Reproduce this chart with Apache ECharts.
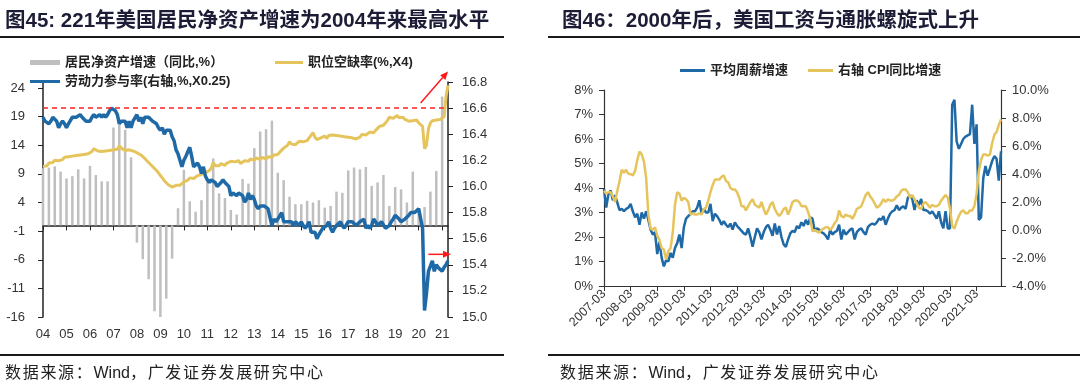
<!DOCTYPE html>
<html><head><meta charset="utf-8">
<script src="https://cdn.jsdelivr.net/npm/echarts@6/dist/echarts.min.js"></script>
<style>
html,body{margin:0;padding:0;background:#fff;width:1080px;height:391px;overflow:hidden;}
#chart{position:absolute;left:0;top:0;width:1080px;height:391px;}
.t{position:absolute;font-family:"Liberation Sans","Noto Sans CJK SC",sans-serif;font-weight:bold;font-size:20.5px;color:#1c1c36;white-space:nowrap;line-height:24px;}
.rule{position:absolute;height:2px;background:#1a1a1a;}
.src{position:absolute;font-family:"Liberation Sans","Noto Sans CJK SC",sans-serif;font-size:16px;color:#222;white-space:nowrap;line-height:20px;}
.src .c{letter-spacing:1.7px}
</style></head><body>
<div id="chart"></div>
<div class="t" style="left:5px;top:8px">图45: 221年美国居民净资产增速为2004年来最高水平</div>
<div class="t" style="left:562px;top:8px">图46：2000年后，美国工资与通胀螺旋式上升</div>
<div class="rule" style="left:0;top:36px;width:504px"></div>
<div class="rule" style="left:548px;top:36px;width:532px"></div>
<div class="rule" style="left:0;top:354px;width:504px"></div>
<div class="rule" style="left:548px;top:354px;width:532px"></div>
<div class="src" style="left:5px;top:363px"><span class="c">数据来源：</span>Wind<span class="c">，广发证券发展研究中心</span></div>
<div class="src" style="left:560px;top:363px"><span class="c">数据来源：</span>Wind<span class="c">，广发证券发展研究中心</span></div>
<script>
// ---------- Left chart data (monthly 2004-01 .. 2021-04) ----------
const leftStart = [2004, 1], leftEnd = [2021, 4];
// household net worth YoY, quarterly 2004Q1 .. 2021Q1 (%)
const netWorthQ = [10.0, 10.1, 10.3, 9.4, 8.2, 8.6, 9.8, 8.2, 10.4, 8.8, 7.7, 7.7,
  17.1, 17.6, 16.7, 11.9, -3.0, -5.9, -9.4, -15.0, -16.0, -12.8, -5.8,
  3.0, 9.7, 4.2, 2.4, 4.4, 7.6, 11.7, 5.6, 4.8, 2.7, 1.9,
  8.1, 7.3, 13.5, 16.4, 16.8, 18.3, 9.2, 7.9, 5.0, 3.7, 3.7, 4.3, 4.0, 4.4, 3.1, 3.4,
  5.9, 5.7, 9.6, 10.1, 9.8, 10.2, 6.9, 7.5, 8.8, 3.4, 6.7, 6.3, 4.0, 9.4, 2.2, 3.2, 5.9, 9.5, 22.5];
// job openings rate x4, monthly
const vacancyX4 = [
  10.3, 10.5, 10.4, 10.9, 10.7, 11.0, 11.4, 11.1, 11.3, 11.6, 11.5, 11.9,
  11.7, 12.0, 11.9, 12.1, 12.3, 12.2, 12.5, 12.3, 12.6, 12.4, 12.6, 12.5,
  12.7, 12.9, 13.4, 13.1, 13.0, 13.2, 12.9, 13.1, 13.0, 13.2, 13.1, 13.3,
  13.2, 13.4, 13.3, 13.9, 13.5, 13.4, 13.1, 13.3, 13.2, 12.9, 13.0, 12.9,
  12.7, 12.5, 12.3, 12.0, 11.7, 11.4, 11.0, 10.7, 10.3, 10.0, 9.6, 9.2,
  8.7, 8.3, 7.8, 7.5, 7.1, 6.8, 6.7, 6.9, 7.0, 7.2, 7.0, 7.3,
  7.6, 7.4, 7.9, 8.3, 8.0, 8.2, 8.4, 8.7, 8.5, 8.9, 9.0, 9.2,
  9.4, 9.6, 10.0, 11.0, 10.4, 10.6, 10.4, 10.8, 10.6, 10.5, 10.9, 10.8,
  11.2, 10.9, 11.1, 11.4, 11.3, 10.8, 11.1, 11.3, 11.4, 11.2, 11.6, 11.5,
  11.4, 11.8, 11.6, 11.5, 11.9, 11.7, 11.6, 12.0, 11.8, 11.9, 12.3, 12.6,
  12.4, 12.8, 13.0, 13.5, 13.3, 14.0, 14.6, 14.2, 14.5, 14.1, 14.3, 14.7,
  15.0, 14.6, 14.9, 14.8, 15.3, 15.1, 16.2, 15.4, 15.0, 14.9, 15.3, 15.4,
  15.6, 15.2, 15.7, 15.5, 15.8, 16.1, 15.7, 15.9, 15.6, 15.3, 15.5, 15.6,
  15.4, 15.6, 15.3, 15.5, 15.1, 14.9, 15.4, 15.9, 15.6, 15.8, 16.1, 16.3,
  16.4, 16.2, 16.6, 16.9, 17.3, 17.2, 17.5, 17.9, 18.3, 18.9, 18.6, 18.7,
  19.0, 19.2, 18.8, 18.6, 18.9, 18.5, 18.4, 18.2, 18.5, 18.3, 18.2, 18.4,
  17.9, 18.1, 17.3, 13.4, 14.0, 16.9, 17.9, 18.3, 18.0, 18.4, 18.2, 18.5,
  18.6, 19.0, 22.5, 24.5];
// labour force participation x0.25, monthly (right axis)
const participationX025 = [
  16.53, 16.50, 16.50, 16.48, 16.50, 16.53, 16.53, 16.50, 16.45, 16.48, 16.50, 16.48,
  16.45, 16.48, 16.48, 16.53, 16.53, 16.53, 16.53, 16.55, 16.53, 16.53, 16.50, 16.50,
  16.50, 16.53, 16.55, 16.53, 16.53, 16.55, 16.53, 16.55, 16.53, 16.55, 16.58, 16.60,
  16.60, 16.58, 16.55, 16.48, 16.50, 16.50, 16.50, 16.45, 16.50, 16.45, 16.50, 16.50,
  16.55, 16.50, 16.53, 16.48, 16.53, 16.53, 16.53, 16.53, 16.50, 16.50, 16.48, 16.45,
  16.43, 16.45, 16.40, 16.43, 16.43, 16.43, 16.38, 16.35, 16.28, 16.25, 16.25, 16.15,
  16.20, 16.23, 16.23, 16.30, 16.23, 16.15, 16.15, 16.18, 16.15, 16.10, 16.15, 16.08,
  16.05, 16.03, 16.05, 16.05, 16.03, 16.00, 16.00, 16.03, 16.05, 16.03, 16.03, 16.00,
  15.93, 15.95, 15.95, 15.93, 15.95, 15.95, 15.93, 15.88, 15.90, 15.95, 15.90, 15.93,
  15.90, 15.85, 15.83, 15.85, 15.85, 15.85, 15.85, 15.83, 15.83, 15.70, 15.75, 15.73,
  15.75, 15.75, 15.80, 15.73, 15.73, 15.73, 15.73, 15.73, 15.70, 15.73, 15.73, 15.70,
  15.73, 15.70, 15.68, 15.70, 15.73, 15.65, 15.65, 15.65, 15.60, 15.63, 15.63, 15.68,
  15.68, 15.70, 15.73, 15.68, 15.65, 15.68, 15.70, 15.70, 15.73, 15.70, 15.68, 15.68,
  15.73, 15.73, 15.73, 15.73, 15.70, 15.70, 15.73, 15.73, 15.75, 15.68, 15.70, 15.68,
  15.70, 15.75, 15.73, 15.70, 15.70, 15.73, 15.73, 15.68, 15.68, 15.70, 15.73, 15.75,
  15.78, 15.78, 15.75, 15.73, 15.73, 15.75, 15.75, 15.78, 15.80, 15.80, 15.80, 15.80,
  15.83, 15.83, 15.68, 15.05, 15.18, 15.35, 15.35, 15.43, 15.35, 15.40, 15.38, 15.38,
  15.35, 15.38, 15.40, 15.43];
const leftYTicks = [-16, -11, -6, -1, 4, 9, 14, 19, 24];
const refLevel = 16.6;   // red dashed reference (right axis)

// ---------- Right chart data (monthly 2007-03 .. 2022-02) ----------
const rightStart = [2007, 3], rightEnd = [2022, 2];
const weeklyWageYoY = [
  3.95, 3.2, 3.75, 3.9, 3.5, 3.7, 3.4, 3.1, 3.15, 3.05,
  3.15, 3.2, 3.35, 3.05, 2.8, 2.95, 2.5, 3.0, 2.75, 3.05, 2.7, 2.3,
  2.1, 2.2, 1.3, 1.8, 1.15, 0.8, 1.05, 1.0, 1.35, 1.15, 1.55, 1.75,
  2.1, 1.55, 2.4, 2.75, 2.85, 2.95, 3.05, 3.05, 3.2, 3.5, 2.95, 3.15,
  3.0, 3.0, 3.35, 2.65, 2.95, 2.85, 2.7, 2.5, 2.65, 2.5, 2.4, 2.55,
  2.3, 2.6, 2.45, 2.35, 2.25, 2.15, 2.1, 2.35, 2.0, 1.6, 2.0, 2.35,
  2.2, 1.9, 2.2, 2.4, 2.5, 2.3, 2.05, 2.55, 2.1, 2.45, 2.0, 1.7,
  1.6, 1.9, 2.15, 2.25, 2.2, 2.45, 2.35, 2.6, 2.45, 2.7, 2.5, 2.8,
  2.75, 2.25, 2.35, 2.3, 2.2, 2.15, 2.05, 1.9, 2.3, 2.1, 2.2, 2.25,
  2.5, 1.9, 2.3, 2.1, 2.2, 2.3, 2.35, 1.9, 2.2, 2.3, 2.35, 2.2,
  2.1, 2.4, 2.5, 2.55, 2.5, 2.6, 2.75, 2.7, 2.85, 2.5, 2.75, 2.95,
  3.05, 3.1, 3.3, 3.1, 3.2, 3.25, 3.15, 3.6, 3.7, 3.55, 3.1, 3.5,
  3.3, 3.55, 3.1, 3.1, 3.05, 2.95, 3.05, 2.9, 2.75, 3.05, 2.6, 2.35,
  3.05, 2.35, 2.35, 7.4, 7.6, 5.9, 5.6, 5.8, 6.0, 6.1, 6.15, 6.2,
  7.4, 5.8, 6.6, 2.7, 2.8, 4.4, 4.9, 4.5, 4.8, 5.1, 5.3, 5.2,
  4.3, 5.5];
const cpiYoY = [
  2.8, 2.6, 2.7, 2.7, 2.4, 2.0, 2.8, 3.5, 4.3, 4.1,
  4.3, 4.0, 4.0, 3.9, 4.2, 5.0, 5.6, 5.4, 4.9, 3.7, 1.1, 0.1,
  0.0, 0.2, -0.4, -0.7, -1.3, -1.4, -2.1, -1.5, -1.3, -0.2, 1.8, 2.7,
  2.6, 2.1, 2.3, 2.2, 2.0, 1.1, 1.2, 1.1, 1.1, 1.2, 1.1, 1.5,
  1.6, 2.1, 2.7, 3.2, 3.6, 3.6, 3.6, 3.8, 3.9, 3.5, 3.4, 3.0,
  2.9, 2.9, 2.7, 2.3, 1.7, 1.7, 1.4, 1.7, 2.0, 2.2, 1.8, 1.7,
  1.6, 2.0, 1.5, 1.1, 1.4, 1.8, 2.0, 1.5, 1.2, 1.0, 1.2, 1.5,
  1.6, 1.1, 1.5, 2.0, 2.1, 2.1, 2.0, 1.7, 1.7, 1.7, 1.3, 0.8,
  -0.1, 0.0, -0.1, -0.2, 0.0, 0.1, 0.2, 0.2, 0.0, 0.2, 0.5, 0.7,
  1.4, 1.0, 0.9, 1.1, 1.0, 1.0, 0.8, 1.1, 1.5, 1.6, 1.7, 2.1,
  2.5, 2.7, 2.4, 2.2, 1.9, 1.6, 1.7, 1.9, 2.2, 2.0, 2.2, 2.1,
  2.1, 2.2, 2.4, 2.5, 2.8, 2.9, 2.9, 2.7, 2.3, 2.5, 2.2, 1.9,
  1.6, 1.5, 1.9, 2.0, 1.8, 1.6, 1.8, 1.7, 1.7, 1.8, 2.1, 2.3,
  2.5, 2.3, 1.5, 0.3, 0.1, 0.6, 1.0, 1.3, 1.4, 1.2, 1.2, 1.4,
  1.4, 1.7, 2.6, 4.2, 5.0, 5.4, 5.4, 5.3, 5.4, 6.2, 6.8, 7.0,
  7.5, 7.9];

const N_BAR = '居民净资产增速（同比,%）';
const N_VAC = '职位空缺率(%,X4)';
const N_LFP = '劳动力参与率(右轴,%,X0.25)';
const N_WAGE = '平均周薪增速';
const N_CPI = '右轴 CPI同比增速';

function months(a, b) {
  const out = []; let y = a[0], m = a[1];
  while (y < b[0] || (y === b[0] && m <= b[1])) {
    out.push(y + '-' + (m < 10 ? '0' : '') + m);
    m++; if (m > 12) { m = 1; y++; }
  }
  return out;
}
const leftCats = months(leftStart, leftEnd);
const rightCats = months(rightStart, rightEnd);
// quarterly bars placed on the first month of each quarter
const netWorthMonthly = leftCats.map(() => null);
netWorthQ.forEach((v, i) => { netWorthMonthly[i * 3] = v; });

const F = '"Liberation Sans","Noto Sans CJK SC",sans-serif';
const AX = '#333';
const BLUE = '#1F69A6', YEL = '#E6C45C', GREY = '#BFBFBF';
const lblStyle = { color: '#333', fontSize: 13, fontFamily: F };
const isJan = (i, v) => v.slice(5) === '01';
const every12 = (i) => i % 12 === 0;
const legText = { color: '#222', fontSize: 13, fontWeight: 'bold', fontFamily: F };

const chart = echarts.init(document.getElementById('chart'), null, { renderer: 'canvas' });
const option = {
  animation: false,
  backgroundColor: 'transparent',
  grid: [
    { left: 43, right: 632, top: 82, bottom: 74 },
    { left: 604, right: 79, top: 90, bottom: 105 }
  ],
  legend: [
    { left: 25, top: 51, itemWidth: 30, itemHeight: 5, data: [{ name: N_BAR, icon: 'rect' }], textStyle: legText, selectedMode: false },
    { left: 270, top: 51, itemWidth: 28, itemHeight: 3, data: [{ name: N_VAC, icon: 'rect' }], textStyle: legText, selectedMode: false },
    { left: 25, top: 70, itemWidth: 30, itemHeight: 3, data: [{ name: N_LFP, icon: 'rect' }], textStyle: legText, selectedMode: false },
    { left: 675, top: 59, itemWidth: 25, itemHeight: 3, itemGap: 20, data: [{ name: N_WAGE, icon: 'rect' }, { name: N_CPI, icon: 'rect' }], textStyle: legText, selectedMode: false }
  ],
  xAxis: [
    { gridIndex: 0, type: 'category', data: leftCats, boundaryGap: false,
      axisLine: { onZero: true, onZeroAxisIndex: 0, lineStyle: { color: '#222', width: 1.5 } },
      axisTick: { interval: isJan, length: 5, lineStyle: { color: '#222' } },
      axisLabel: { show: false }, splitLine: { show: false } },
    { gridIndex: 0, type: 'category', data: leftCats, boundaryGap: false, position: 'bottom',
      axisLine: { show: false, onZero: false }, axisTick: { show: false },
      axisLabel: Object.assign({ interval: isJan, margin: 11, formatter: v => v.slice(2, 4) }, lblStyle),
      splitLine: { show: false } },
    { gridIndex: 1, type: 'category', data: rightCats, boundaryGap: false,
      axisLine: { onZero: false, lineStyle: { color: AX, width: 1.2 } },
      axisTick: { interval: every12, length: 5, lineStyle: { color: AX } },
      axisLabel: Object.assign({ interval: every12, rotate: 45, margin: 6 }, lblStyle, { fontSize: 12.5 }),
      splitLine: { show: false } }
  ],
  yAxis: [
    { gridIndex: 0, type: 'value', min: -16, max: 25.05,
      axisLine: { show: true, lineStyle: { color: '#222', width: 1.5 } },
      axisTick: { show: true, length: 5, customValues: leftYTicks, lineStyle: { color: '#222' } },
      axisLabel: Object.assign({ customValues: leftYTicks, margin: 18 }, lblStyle),
      splitLine: { show: false } },
    { gridIndex: 0, type: 'value', position: 'right', min: 15, max: 16.8, interval: 0.2,
      axisLine: { show: true, lineStyle: { color: '#222', width: 1.5 } },
      axisTick: { show: true, length: 5, lineStyle: { color: '#222' } },
      axisLabel: Object.assign({ margin: 14, formatter: v => v.toFixed(1) }, lblStyle),
      splitLine: { show: false } },
    { gridIndex: 1, type: 'value', min: 0, max: 8, interval: 1,
      axisLine: { show: true, lineStyle: { color: AX, width: 1.2 } },
      axisTick: { show: true, length: 5, lineStyle: { color: AX } },
      axisLabel: Object.assign({ margin: 11, formatter: v => v + '%' }, lblStyle),
      splitLine: { show: false } },
    { gridIndex: 1, type: 'value', position: 'right', min: -4, max: 10, interval: 2,
      axisLine: { show: true, lineStyle: { color: AX, width: 1.2 } },
      axisTick: { show: true, length: 5, lineStyle: { color: AX } },
      axisLabel: Object.assign({ margin: 11, formatter: v => v.toFixed(1) + '%' }, lblStyle),
      splitLine: { show: false } }
  ],
  series: [
    { name: N_BAR, type: 'bar', xAxisIndex: 0, yAxisIndex: 0, data: netWorthMonthly,
      barWidth: 2.5, itemStyle: { color: GREY } },
    { name: N_VAC, type: 'line', xAxisIndex: 0, yAxisIndex: 0, data: vacancyX4,
      symbol: 'none', color: YEL, lineStyle: { color: YEL, width: 3 } },
    { name: N_LFP, type: 'line', xAxisIndex: 0, yAxisIndex: 1, data: participationX025,
      symbol: 'none', color: BLUE, lineStyle: { color: BLUE, width: 3.5 },
      markLine: { silent: true, symbol: ['none', 'none'], label: { show: false },
        lineStyle: { color: '#FF2020', type: [5, 4], width: 1.5 },
        data: [{ yAxis: refLevel }] } },
    { name: N_WAGE, type: 'line', xAxisIndex: 2, yAxisIndex: 2, data: weeklyWageYoY,
      symbol: 'none', color: BLUE, lineStyle: { color: BLUE, width: 2.5 } },
    { name: N_CPI, type: 'line', xAxisIndex: 2, yAxisIndex: 3, data: cpiYoY,
      symbol: 'none', color: YEL, lineStyle: { color: YEL, width: 2.5 } }
  ]
};
chart.setOption(option);

// ---- red annotation arrows (placed in data coordinates of the left chart) ----
function arrow(p, q, color) {
  const dx = q[0] - p[0], dy = q[1] - p[1], L = Math.hypot(dx, dy);
  const ux = dx / L, uy = dy / L, h = 8, w = 3.5;
  const bx = q[0] - ux * h, by = q[1] - uy * h;
  return [
    { type: 'line', shape: { x1: p[0], y1: p[1], x2: bx, y2: by }, style: { stroke: color, lineWidth: 1.5 }, z: 100 },
    { type: 'polygon', shape: { points: [[q[0], q[1]], [bx - uy * w, by + ux * w], [bx + uy * w, by - ux * w]] }, style: { fill: color }, z: 100 }
  ];
}
const toPx = (c, v) => chart.convertToPixel({ xAxisIndex: 0, yAxisIndex: 1 }, [c, v]);
const a1s = toPx('2020-02', 16.64), a1e = toPx('2021-04', 16.88);
const a2s = toPx('2020-06', 15.48), a2e = toPx('2021-04', 15.48);
a2e[0] += 3;
chart.setOption({ graphic: [].concat(arrow(a1s, a1e, '#FF1A1A'), arrow(a2s, a2e, '#FF1A1A')) });
</script>
</body></html>
